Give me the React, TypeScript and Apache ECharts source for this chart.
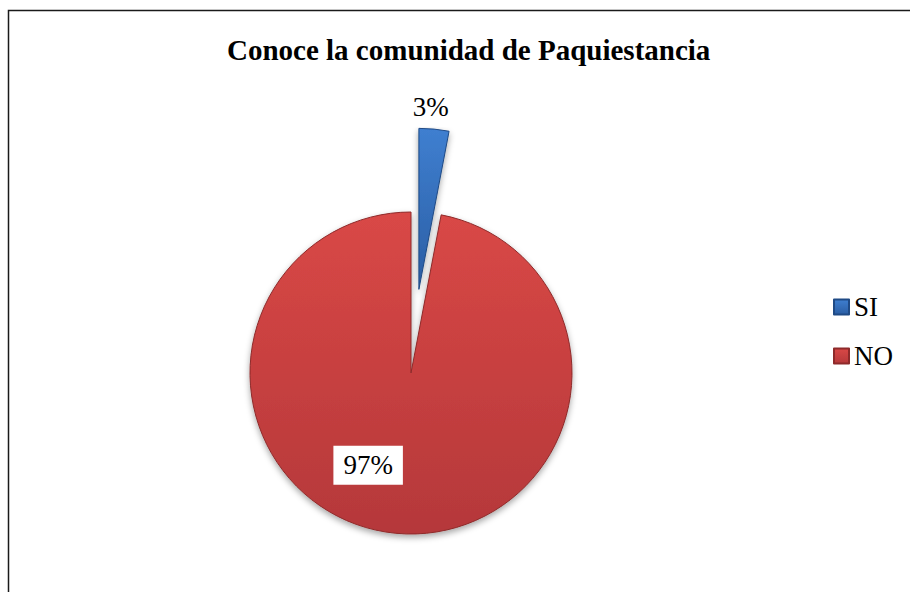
import React, { useEffect, useRef } from "react";
import * as echarts from "echarts";

const titleText = "Conoce la comunidad de Paquiestancia";
const categories = ["SI", "NO"];
const percentages = [3, 97];

const FONT = "'Liberation Serif', 'Times New Roman', serif";

export default function App() {
  const ref = useRef<HTMLDivElement>(null);

  useEffect(() => {
    if (!ref.current) return;
    const chart = echarts.init(ref.current, null, { renderer: "svg" });

    const colors = [
      new echarts.graphic.LinearGradient(0, 0, 0, 1, [
        { offset: 0, color: "#3F7FD0" },
        { offset: 1, color: "#2A5DA3" },
      ]),
      new echarts.graphic.LinearGradient(0, 0, 0, 1, [
        { offset: 0, color: "#D94846" },
        { offset: 1, color: "#B5383A" },
      ]),
    ];
    const borders = ["#1F4A85", "#8E2A2A"];

    const data = categories.map((name, i) => ({
      name,
      value: percentages[i],
      selected: i === 0,
      itemStyle: { color: colors[i], borderColor: borders[i] },
    }));

    chart.setOption({
      animation: false,
      backgroundColor: "#ffffff",
      title: {
        text: titleText,
        left: 222,
        top: 30,
        textStyle: {
          fontFamily: FONT,
          fontWeight: "bold",
          fontSize: 29,
          color: "#000",
        },
      },
      legend: {
        orient: "vertical",
        left: 828,
        top: 288,
        itemWidth: 15,
        itemHeight: 15,
        itemGap: 21,
        icon: "rect",
        selectedMode: false,
        textStyle: {
          fontFamily: FONT,
          fontSize: 27,
          lineHeight: 28,
          color: "#000",
        },
        data: categories,
      },
      graphic: [
        {
          type: "rect",
          shape: { x: 8.5, y: 10.5, width: 1000, height: 1000 },
          style: { fill: "none", stroke: "#1a1a1a", lineWidth: 1.5 },
          silent: true,
        },
      ],
      series: [
        {
          type: "pie",
          center: [411, 373],
          radius: 161,
          startAngle: 90,
          clockwise: true,
          selectedMode: "single",
          selectedOffset: 84,
          avoidLabelOverlap: false,
          itemStyle: {
            borderWidth: 1,
            shadowColor: "rgba(0,0,0,0.35)",
            shadowBlur: 6,
            shadowOffsetY: 3,
          },
          label: {
            show: true,
            position: "inside",
            formatter: "{c}%",
            fontFamily: FONT,
            fontSize: 27,
            color: "#000",
            backgroundColor: "#ffffff",
            padding: [6, 10],
          },
          labelLine: { show: false },
          labelLayout: (params: any) => {
            if (params.dataIndex === 0) return { dx: 4, dy: -99 };
            return { dx: -35, dy: 9 };
          },
          emphasis: { disabled: true },
          data,
        },
      ],
    });

    return () => chart.dispose();
  }, []);

  return (
    <div
      ref={ref}
      style={{ position: "fixed", left: 0, top: 0, width: 910, height: 592 }}
    />
  );
}
